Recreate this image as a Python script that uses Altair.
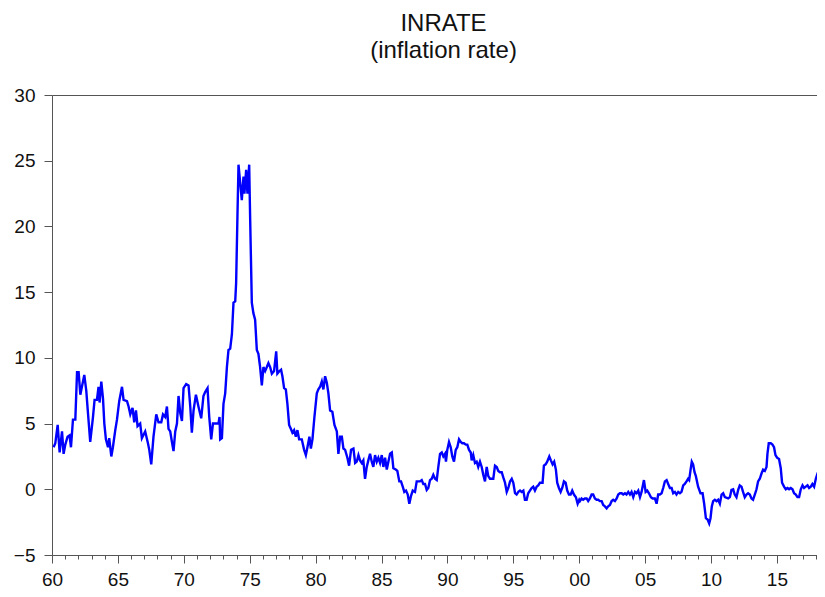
import altair as alt
import pandas as pd

# decimal year, inflation rate (%)
years = [
    1960.12, 1960.25, 1960.43, 1960.58, 1960.76, 1960.88, 1961.01, 1961.18, 1961.33, 1961.44,
    1961.59, 1961.77, 1961.90, 1962.02, 1962.15, 1962.27, 1962.45, 1962.60, 1962.73, 1962.90,
    1963.11, 1963.23, 1963.41, 1963.53, 1963.61, 1963.74, 1963.87, 1963.97, 1964.09, 1964.25,
    1964.34, 1964.50, 1964.62, 1964.80, 1964.93, 1965.10, 1965.31, 1965.43, 1965.69, 1965.81,
    1965.94, 1966.11, 1966.24, 1966.37, 1966.49, 1966.69, 1966.82, 1967.07, 1967.28, 1967.38,
    1967.53, 1967.70, 1967.91, 1968.08, 1968.29, 1968.42, 1968.59, 1968.72, 1968.84, 1968.97,
    1969.10, 1969.22, 1969.35, 1969.48, 1969.60, 1969.73, 1969.86, 1969.98, 1970.18, 1970.36,
    1970.49, 1970.61, 1970.74, 1970.92, 1971.11, 1971.32, 1971.49, 1971.62, 1971.80, 1971.93,
    1972.08, 1972.21, 1972.38, 1972.63, 1972.71, 1972.76, 1972.89, 1973.01, 1973.14, 1973.27,
    1973.39, 1973.52, 1973.65, 1973.77, 1973.90, 1973.97, 1974.07, 1974.15, 1974.28, 1974.40,
    1974.53, 1974.60, 1974.73, 1974.83, 1974.96, 1975.03, 1975.16, 1975.28, 1975.41, 1975.54,
    1975.66, 1975.79, 1975.92, 1976.04, 1976.17, 1976.30, 1976.42, 1976.55, 1976.68, 1976.85,
    1977.01, 1977.10, 1977.26, 1977.38, 1977.48, 1977.61, 1977.74, 1977.86, 1977.99, 1978.12,
    1978.24, 1978.37, 1978.50, 1978.62, 1978.75, 1978.95, 1979.13, 1979.26, 1979.38, 1979.53,
    1979.64, 1979.76, 1979.91, 1980.09, 1980.21, 1980.34, 1980.47, 1980.59, 1980.72, 1980.85,
    1980.97, 1981.10, 1981.27, 1981.43, 1981.61, 1981.73, 1981.86, 1981.99, 1982.11, 1982.24,
    1982.41, 1982.54, 1982.69, 1982.87, 1983.00, 1983.12, 1983.25, 1983.37, 1983.50, 1983.62,
    1983.75, 1983.88, 1984.00, 1984.13, 1984.26, 1984.38, 1984.51, 1984.64, 1984.76, 1984.89,
    1985.02, 1985.14, 1985.27, 1985.40, 1985.52, 1985.65, 1985.78, 1985.90, 1986.08, 1986.20,
    1986.35, 1986.48, 1986.61, 1986.73, 1986.86, 1986.99, 1987.11, 1987.24, 1987.37, 1987.54,
    1987.67, 1987.79, 1987.92, 1988.05, 1988.17, 1988.30, 1988.43, 1988.55, 1988.68, 1988.81,
    1988.93, 1989.06, 1989.19, 1989.31, 1989.44, 1989.57, 1989.69, 1989.82, 1989.89, 1989.99,
    1990.12, 1990.25, 1990.37, 1990.50, 1990.63, 1990.75, 1990.88, 1991.01, 1991.13, 1991.26,
    1991.39, 1991.51, 1991.64, 1991.77, 1991.84, 1991.96, 1992.09, 1992.22, 1992.34, 1992.47,
    1992.60, 1992.72, 1992.85, 1992.98, 1993.10, 1993.23, 1993.36, 1993.48, 1993.61, 1993.74,
    1993.86, 1993.99, 1994.12, 1994.24, 1994.37, 1994.50, 1994.62, 1994.75, 1994.88, 1995.00,
    1995.13, 1995.25, 1995.38, 1995.51, 1995.63, 1995.76, 1995.88, 1996.01, 1996.13, 1996.26,
    1996.39, 1996.51, 1996.64, 1996.77, 1996.89, 1997.02, 1997.22, 1997.32, 1997.45, 1997.57,
    1997.73, 1997.85, 1997.98, 1998.10, 1998.23, 1998.33, 1998.46, 1998.59, 1998.71, 1998.84,
    1998.97, 1999.09, 1999.22, 1999.35, 1999.47, 1999.60, 1999.75, 1999.88, 2000.00, 2000.05,
    2000.18, 2000.30, 2000.43, 2000.56, 2000.68, 2000.81, 2000.94, 2001.06, 2001.19, 2001.32,
    2001.44, 2001.57, 2001.70, 2001.82, 2001.95, 2002.08, 2002.20, 2002.33, 2002.46, 2002.58,
    2002.71, 2002.84, 2002.96, 2003.09, 2003.22, 2003.34, 2003.47, 2003.59, 2003.72, 2003.85,
    2003.97, 2004.10, 2004.23, 2004.35, 2004.48, 2004.61, 2004.73, 2004.91, 2005.04, 2005.16,
    2005.29, 2005.44, 2005.57, 2005.74, 2005.87, 2005.99, 2006.12, 2006.25, 2006.37, 2006.50,
    2006.63, 2006.75, 2006.88, 2007.01, 2007.13, 2007.26, 2007.38, 2007.51, 2007.64, 2007.76,
    2007.89, 2008.01, 2008.14, 2008.26, 2008.34, 2008.45, 2008.54, 2008.64, 2008.75, 2008.85,
    2009.02, 2009.20, 2009.36, 2009.48, 2009.61, 2009.74, 2009.86, 2009.96, 2010.06, 2010.16,
    2010.29, 2010.42, 2010.54, 2010.67, 2010.80, 2010.92, 2011.05, 2011.30, 2011.43, 2011.55,
    2011.68, 2011.80, 2011.93, 2012.06, 2012.18, 2012.31, 2012.43, 2012.56, 2012.69, 2012.81,
    2012.94, 2013.07, 2013.19, 2013.32, 2013.45, 2013.57, 2013.70, 2013.83, 2013.95, 2014.08,
    2014.21, 2014.28, 2014.38, 2014.53, 2014.66, 2014.78, 2014.89, 2015.01, 2015.16, 2015.29,
    2015.39, 2015.54, 2015.67, 2015.80, 2015.92, 2016.05, 2016.18, 2016.30, 2016.43, 2016.56,
    2016.68, 2016.81, 2016.94, 2017.06, 2017.19, 2017.32, 2017.44, 2017.57, 2017.69, 2017.82,
    2017.95, 2018.08, 2018.20, 2018.33, 2018.45, 2018.58,
]
values = [
    3.2, 3.5, 4.9, 2.8, 4.4, 2.7, 3.4, 4.0, 4.1, 3.2,
    5.3, 5.3, 8.9, 8.9, 7.2, 7.8, 8.7, 7.5, 5.8, 3.6,
    5.5, 6.8, 6.8, 7.8, 6.6, 8.2, 6.9, 5.0, 3.8, 3.2,
    3.9, 2.5, 3.2, 4.5, 5.3, 6.7, 7.8, 6.8, 6.7, 6.3,
    5.7, 6.2, 5.1, 6.0, 4.8, 5.0, 3.9, 4.4, 3.5, 3.0,
    1.9, 4.0, 5.7, 5.1, 5.1, 5.7, 5.5, 6.3, 4.6, 4.4,
    3.6, 2.9, 4.4, 5.0, 7.1, 5.8, 5.2, 7.7, 8.0, 7.9,
    6.3, 4.3, 6.0, 7.2, 6.3, 5.4, 7.1, 7.4, 7.7, 5.5,
    3.8, 5.0, 5.0, 5.0, 5.5, 3.8, 3.9, 6.5, 7.3, 9.3,
    10.6, 10.7, 11.8, 14.2, 14.3, 15.7, 20.8, 24.7, 23.3, 22.0,
    23.8, 22.5, 24.3, 22.5, 24.7, 20.8, 14.2, 13.4, 12.9, 10.6,
    10.3, 9.3, 7.9, 9.3, 9.0, 9.3, 9.6, 9.3, 8.8, 9.0,
    10.5, 8.8, 9.0, 9.1, 8.6, 7.7, 7.6, 6.5, 4.9, 4.6,
    4.3, 4.5, 4.0, 4.5, 3.8, 3.8, 3.0, 2.6, 3.2, 4.0,
    3.1, 3.8, 5.5, 7.3, 7.6, 7.8, 8.2, 7.6, 8.6, 8.1,
    7.3, 6.0, 5.9, 4.9, 4.4, 2.7, 4.0, 4.0, 3.1, 3.0,
    2.4, 1.8, 3.0, 3.1, 2.0, 2.1, 2.6, 2.2, 2.0, 2.2,
    0.8, 1.7, 2.2, 2.7, 2.1, 1.7, 2.6, 2.1, 2.4, 2.0,
    2.6, 1.7, 2.4, 1.5, 2.1, 2.7, 2.8, 1.6, 1.5, 1.4,
    0.6, 0.6, 0.2, -0.2, -0.1, -0.4, -1.1, -0.5, -0.1, -0.2,
    0.6, 0.6, 0.6, 0.7, 0.4, 0.4, -0.05, 0.1, 0.7, 0.8,
    1.1, 0.8, 0.7, 1.7, 2.7, 2.8, 2.5, 2.7, 2.1, 3.0,
    3.6, 3.2, 2.5, 2.1, 3.0, 3.2, 3.8, 3.6, 3.5, 3.5,
    3.4, 3.4, 3.0, 2.8, 2.2, 2.6, 2.0, 2.1, 1.7, 2.1,
    1.7, 1.1, 0.6, 1.7, 1.0, 0.8, 0.8, 0.8, 1.8, 1.7,
    1.4, 1.3, 1.3, 0.9, 0.5, -0.2, 0.1, 0.6, 0.8, 0.5,
    -0.3, -0.4, -0.2, -0.1, -0.2, -0.1, -0.8, -0.8, -0.3, -0.1,
    0.1, 0.2, -0.1, 0.2, 0.3, 0.5, 0.5, 1.8, 1.9, 2.1,
    2.5, 2.2, 1.9, 2.1, 1.5, 0.5, 0.1, -0.2, 0.1, 0.6,
    0.5, -0.1, -0.4, -0.4, -0.1, -0.4, -0.6, -1.1, -0.8, -0.9,
    -0.7, -0.8, -0.7, -0.7, -0.9, -0.7, -0.4, -0.4, -0.7, -0.8,
    -0.8, -0.9, -0.9, -1.2, -1.3, -1.45, -1.3, -1.2, -0.9, -0.8,
    -0.9, -0.7, -0.4, -0.3, -0.3, -0.4, -0.3, -0.4, -0.2, -0.4,
    -0.2, -0.6, -0.2, -0.3, -0.1, -0.6, -0.2, 0.7, -0.2, -0.1,
    -0.3, -0.6, -0.7, -0.7, -1.1, -0.4, -0.4, -0.3, 0.1, 0.6,
    0.7, 0.4, 0.1, 0.1, -0.3, -0.2, -0.4, -0.2, -0.3, -0.2,
    0.3, 0.4, 0.6, 0.8, 0.7, 1.5, 2.1, 1.9, 1.3, 1.0,
    0.2, -0.3, -0.3, -1.1, -2.2, -2.3, -2.6, -2.2, -1.3, -0.9,
    -0.8, -0.9, -0.8, -1.1, -0.4, -0.3, -0.6, -0.7, -0.6, -0.05,
    0.0, -0.4, -0.6, -0.05, 0.3, 0.2, -0.2, -0.6, -0.4, -0.3,
    -0.4, -0.7, -0.8, -0.4, 0.0, 0.6, 0.8, 1.2, 1.5, 1.4,
    1.7, 2.7, 3.5, 3.5, 3.4, 3.2, 2.6, 2.4, 2.3, 1.6,
    0.5, 0.2, 0.0, 0.1, 0.0, 0.1, 0.0, -0.3, -0.4, -0.6,
    -0.6, 0.0, 0.3, 0.1, 0.2, 0.3, 0.1, 0.2, 0.4, 0.2,
    0.8, 1.2, 1.2, 0.4, 0.6, 1.0,
]

major_ticks = list(range(1960, 2020, 5))
minor_ticks = list(range(1960, 2019))
y_ticks = [-5, 0, 5, 10, 15, 20, 25, 30]

df = pd.DataFrame({"year": years, "value": values})

FONT = "Liberation Sans"
# the window only leaves room for the plot up to early 2018
x_scale = alt.Scale(domain=[1960, 2018.04], nice=False, zero=False)
y_scale = alt.Scale(domain=[-5, 30], nice=False)

base = alt.Chart(df)

line = base.mark_line(color="#0000FF", strokeWidth=2.4, clip=True).encode(
    x=alt.X("year:Q", scale=x_scale, title=None,
            axis=alt.Axis(orient="bottom", values=major_ticks, tickSize=8,
                          labelExpr="format(datum.value % 100, '02d')",
                          labelPadding=7, labelFontSize=19, labelFont=FONT,
                          labelColor="#111", domainColor="#555", tickColor="#555",
                          grid=False, labelFlush=False, labelOverlap=False)),
    y=alt.Y("value:Q", scale=y_scale, title=None,
            axis=alt.Axis(orient="left", values=y_ticks, tickSize=8, labelPadding=9,
                          labelFontSize=19, labelFont=FONT, labelColor="#111",
                          domainColor="#555", tickColor="#555", grid=False,
                          labelFlush=False, labelOverlap=False)),
)

minor = base.mark_line(strokeOpacity=0).encode(
    x=alt.X("year:Q", scale=x_scale, title=None,
            axis=alt.Axis(orient="bottom", values=minor_ticks, tickSize=4,
                          labels=False, domain=False, grid=False, tickColor="#555")),
    y=alt.Y("value:Q", scale=y_scale, axis=None),
)

top = base.mark_line(strokeOpacity=0).encode(
    x=alt.X("year:Q", scale=x_scale, title=None,
            axis=alt.Axis(orient="top", ticks=False, labels=False, domain=True,
                          domainColor="#555", grid=False)),
    y=alt.Y("value:Q", scale=y_scale, axis=None),
)

chart = alt.layer(line, minor, top).resolve_axis(x="independent", y="independent").properties(
    width=765,
    height=460,
    autosize=alt.AutoSizeParams(type="none"),
    padding={"left": 44, "top": 87, "right": 0, "bottom": 34},
    title=alt.TitleParams(
        text=["INRATE", "(inflation rate)"],
        fontSize=24, font=FONT, fontWeight="normal", color="#111",
        lineHeight=27, anchor="middle", offset=23, dx=9,
    ),
).configure_view(stroke=None)

chart.save("out.html", embed_options={"renderer": "svg", "actions": False})
